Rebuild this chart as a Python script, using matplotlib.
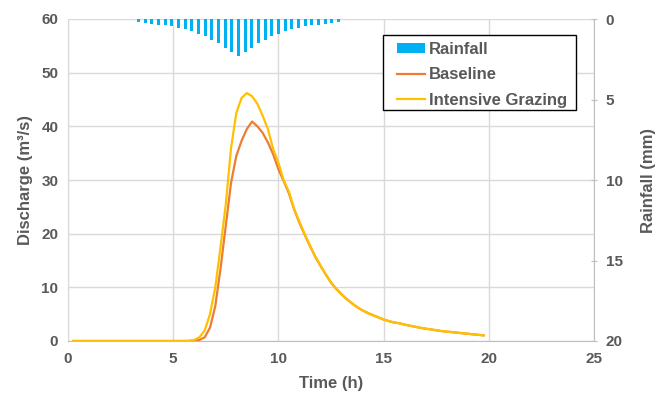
import matplotlib
matplotlib.use("Agg")
import matplotlib.pyplot as plt
from matplotlib.patches import Patch, Rectangle
from matplotlib.lines import Line2D

plt.rcParams['font.family'] = ['Liberation Sans', 'DejaVu Sans']

# ---- data ----
time_h = [0.25, 5.5, 5.75, 6.0, 6.25, 6.5, 6.75, 7.0, 7.25, 7.5, 7.75, 8.0, 8.25, 8.5,
          8.75, 9.0, 9.25, 9.5, 9.75, 10.0, 10.25, 10.5, 10.75, 11.0, 11.25, 11.5,
          11.75, 12.0, 12.25, 12.5, 12.75, 13.0, 13.25, 13.5, 13.75, 14.0, 14.25,
          14.5, 14.75, 15.0, 15.25, 15.5, 15.75, 16.0, 16.25, 16.5, 16.75, 17.0,
          17.25, 17.5, 17.75, 18.0, 18.25, 18.5, 18.75, 19.0, 19.25, 19.5, 19.75]

baseline = [0, 0, 0, 0.05, 0.2, 0.7, 2.5, 6.5, 13.5, 21.5, 29.5, 34.5, 37.3, 39.5,
            40.9, 40.0, 38.8, 37.0, 34.8, 32.0, 29.8, 27.5, 24.5, 22.0, 19.8, 17.7,
            15.7, 14.0, 12.4, 10.9, 9.7, 8.7, 7.8, 7.0, 6.3, 5.7, 5.2, 4.8, 4.4,
            4.0, 3.7, 3.45, 3.3, 3.05, 2.85, 2.65, 2.45, 2.3, 2.15, 2.0, 1.85, 1.75,
            1.65, 1.55, 1.45, 1.35, 1.25, 1.15, 1.05]

grazing = [0, 0, 0.05, 0.2, 0.7, 2.0, 5.0, 10.0, 17.5, 25.5, 36.0, 42.5, 45.3, 46.2,
           45.6, 44.2, 42.0, 39.5, 35.8, 33.2, 30.0, 27.8, 24.6, 22.2, 19.9, 17.8,
           15.8, 14.1, 12.4, 10.9, 9.7, 8.7, 7.8, 7.0, 6.3, 5.7, 5.2, 4.8, 4.4,
           4.0, 3.7, 3.45, 3.3, 3.05, 2.85, 2.65, 2.45, 2.3, 2.15, 2.0, 1.85, 1.75,
           1.65, 1.55, 1.45, 1.35, 1.25, 1.15, 1.05]

rain_time_h = [3.35, 3.67, 3.98, 4.30, 4.62, 4.94, 5.25, 5.57, 5.89, 6.20, 6.52,
               6.84, 7.15, 7.47, 7.79, 8.10, 8.42, 8.74, 9.05, 9.37, 9.69, 10.00,
               10.32, 10.64, 10.96, 11.27, 11.59, 11.91, 12.22, 12.54, 12.86]
rain_mm = [0.21, 0.27, 0.29, 0.35, 0.40, 0.46, 0.56, 0.64, 0.77, 0.93, 1.06, 1.29,
           1.51, 1.78, 2.07, 2.28, 2.07, 1.78, 1.51, 1.29, 1.06, 0.93, 0.77, 0.64,
           0.56, 0.46, 0.40, 0.35, 0.29, 0.27, 0.21]

x_ticks = [0, 5, 10, 15, 20, 25]
q_ticks = [0, 10, 20, 30, 40, 50, 60]
r_ticks = [0, 5, 10, 15, 20]

# ---- style ----
GRAY_TXT = '#595959'
GRID = '#D9D9D9'
SPINE = '#BFBFBF'
BLUE = '#00B0F0'
ORANGE = '#ED7D31'
YELLOW = '#FFC000'
W, H = 661, 394

fig = plt.figure(figsize=(W/100, H/100), dpi=100)
ax = fig.add_axes([68/W, 1-341/H, (594-68)/W, (341-19)/H])
ax2 = ax.twinx()

ax.plot(time_h, baseline, color=ORANGE, lw=1.6, zorder=3)
ax.plot(time_h, grazing, color=YELLOW, lw=1.6, zorder=4)

ax2.bar(rain_time_h, rain_mm, width=0.14, color=BLUE, align='center', zorder=2)

ax.set_xlim(0, 25)
ax.set_ylim(0, 60)
ax2.set_ylim(20, 0)

ax.set_xticks(x_ticks)
ax.set_yticks(q_ticks)
ax2.set_yticks(r_ticks)

ax.grid(True, color=GRID, lw=1.0, zorder=0)
ax.set_axisbelow(True)

for a in (ax, ax2):
    for s in a.spines.values():
        s.set_visible(False)
ax.spines['bottom'].set_visible(True)
ax.spines['bottom'].set_color(SPINE)
ax.spines['left'].set_visible(True)
ax.spines['left'].set_color(GRID)
ax2.spines['right'].set_visible(True)
ax2.spines['right'].set_color(SPINE)

ax.tick_params(axis='both', length=0, pad=7, labelsize=11, labelcolor=GRAY_TXT)
ax.tick_params(axis='x', pad=8)
ax2.tick_params(axis='y', length=5, direction='inout', color=SPINE, pad=6,
                labelsize=11, labelcolor=GRAY_TXT)
for lab in ax.get_xticklabels() + ax.get_yticklabels() + ax2.get_yticklabels():
    lab.set_fontweight('bold')

ax.set_xlabel('Time (h)', fontsize=12, fontweight='bold', color=GRAY_TXT, labelpad=7)
ax.set_ylabel('Discharge (m³/s)', fontsize=12, fontweight='bold', color=GRAY_TXT, labelpad=6)
ax2.set_ylabel('Rainfall (mm)', fontsize=12, fontweight='bold', color=GRAY_TXT, labelpad=13)

# legend frame drawn separately (Excel-style asymmetric padding)
frame = Rectangle((382.5/W, 1-110/H), (576-382.5)/W, (110-35)/H,
                  transform=fig.transFigure, facecolor='white', edgecolor='black',
                  lw=1.0, zorder=10)
fig.patches.append(frame)

handles = [Patch(facecolor=BLUE, edgecolor='none'),
           Line2D([0], [0], color=ORANGE, lw=1.6),
           Line2D([0], [0], color=YELLOW, lw=1.6)]
labels = ['Rainfall', 'Baseline', 'Intensive Grazing']
leg = fig.legend(handles, labels, loc='upper left',
                 bbox_to_anchor=(396.5/W, 1-41.5/H), bbox_transform=fig.transFigure,
                 frameon=False, prop=dict(size=12, weight='bold'), handlelength=1.7,
                 handleheight=0.55, handletextpad=0.25, labelspacing=0.63,
                 borderpad=0, borderaxespad=0)
leg.set_zorder(11)
for t in leg.get_texts():
    t.set_color(GRAY_TXT)

fig.savefig('out.png', dpi=100)
